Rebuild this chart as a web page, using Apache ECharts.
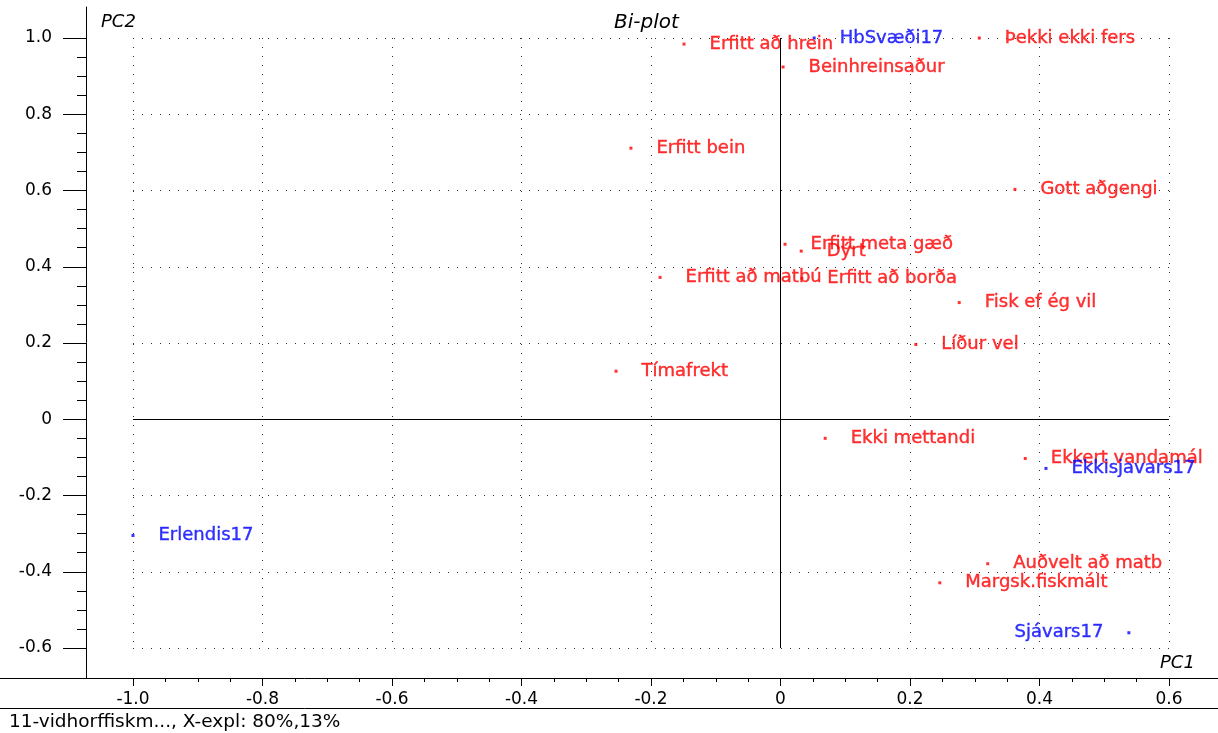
<!DOCTYPE html>
<html>
<head>
<meta charset="utf-8">
<script src="https://cdn.jsdelivr.net/npm/echarts@6/dist/echarts.min.js"></script>
<style>html,body{margin:0;padding:0;background:#fff;}#c{width:1218px;height:733px;}</style>
</head>
<body>
<div id="c"></div>
<script>
// Loadings / attributes (red)
const redNames = ['Erfitt að hrein','Beinhreinsaður','Þekki ekki fers','Erfitt bein','Gott aðgengi','Erfitt meta gæð','Dýrt','Erfitt að matbú','Erfitt að borða','Fisk ef ég vil','Líður vel','Tímafrekt','Ekki mettandi','Ekkert vandamál','Auðvelt að matb','Margsk.fiskmált'];
const redX = [-0.149, 0.004, 0.307, -0.231, 0.362, 0.007, 0.032, -0.186, 0.033, 0.276, 0.209, -0.254, 0.069, 0.378, 0.320, 0.246];
const redY = [0.984, 0.924, 1.000, 0.711, 0.603, 0.459, 0.441, 0.372, 0.370, 0.306, 0.196, 0.126, -0.050, -0.103, -0.379, -0.429];
// Scores / samples (blue)
const blueNames = ['HbSvæði17','Ekkisjavars17','Erlendis17','Sjávars17'];
const blueX = [0.052, 0.410, -1.000, 0.538];
const blueY = [1.000, -0.129, -0.305, -0.560];
const blueLabelSide = ['right','right','right','left'];
// Tick labels
const xTickLabels = ['-1.0','-0.8','-0.6','-0.4','-0.2','0','0.2','0.4','0.6'];
const yTickLabels = ['-0.6','-0.4','-0.2','0','0.2','0.4','0.6','0.8','1.0'];
const xMin = -1, xMax = 0.6, yMin = -0.6, yMax = 1.0, step = 0.2;

const FONT = 'DejaVu Sans';
const chart = echarts.init(document.getElementById('c'), null, {renderer:'canvas'});

const redData = redNames.map((n,i)=>({name:n, value:[redX[i], redY[i]]}));
const blueData = blueNames.map((n,i)=>({name:n, value:[blueX[i], blueY[i]], label:{position:blueLabelSide[i]}}));

const hiddenAxis = (g)=>({gridIndex:g, type:'value', min:0, max:1, show:false});
const lineAxis = (g, extra)=>Object.assign({gridIndex:g, type:'value', min:0, max:1,
  axisLine:{show:true, onZero:false, lineStyle:{color:'#000', width:1}},
  axisTick:{show:false}, axisLabel:{show:false}, splitLine:{show:false}}, extra||{});

const ital = (size)=>({fontFamily:FONT, fontSize:size, fontStyle:'italic', fontWeight:'normal', color:'#000'});
const ptLabel = (color)=>({show:true, position:'right', distance:24, formatter:'{b}', color:color,
  fontFamily:FONT, fontSize:18, textBorderColor:color, textBorderWidth:0.4});

chart.setOption({
  animation:false,
  backgroundColor:'#fff',
  title:[
    {text:'Bi-plot', left:614, top:13, padding:0, textStyle:ital(20)},
    {text:'PC2', left:101, top:13, padding:0, textStyle:ital(18)},
    {text:'PC1', left:1160, top:654, padding:0, textStyle:ital(18)},
    {text:'11-vidhorffiskm..., X-expl: 80%,13%', left:9, top:713, padding:0,
     textStyle:{fontFamily:FONT, fontSize:18.5, fontWeight:'normal', color:'#000'}}
  ],
  grid:[
    {left:133, right:49, top:38, bottom:85},
    {left:0, right:0, top:7, bottom:55},
    {left:86, right:0, top:7, bottom:55},
    {left:0, right:0, top:7, bottom:25}
  ],
  xAxis:[
    {gridIndex:0, type:'value', min:xMin, max:xMax, interval:step, offset:30,
     axisLine:{show:false, onZero:false},
     axisTick:{show:true, length:8, lineStyle:{color:'#000'}},
     minorTick:{show:true, splitNumber:4, length:4, lineStyle:{color:'#000'}},
     axisLabel:{margin:13, color:'#000', fontFamily:FONT, fontSize:17,
       formatter:(v)=>xTickLabels[Math.round((v-xMin)/step)]},
     splitLine:{show:true, lineStyle:{color:'#333', type:[1,8], width:1}}},
    lineAxis(1),
    hiddenAxis(2),
    lineAxis(3)
  ],
  yAxis:[
    {gridIndex:0, type:'value', min:yMin, max:yMax, interval:step, offset:47,
     axisLine:{show:false, onZero:false},
     axisTick:{show:true, length:23, lineStyle:{color:'#000'}},
     minorTick:{show:true, splitNumber:4, length:9, lineStyle:{color:'#000'}},
     axisLabel:{margin:34, color:'#000', fontFamily:FONT, fontSize:17,
       formatter:(v)=>yTickLabels[Math.round((v-yMin)/step)]},
     splitLine:{show:true, lineStyle:{color:'#333', type:[1,8], width:1}}},
    hiddenAxis(1),
    lineAxis(2),
    hiddenAxis(3)
  ],
  series:[
    {type:'scatter', xAxisIndex:0, yAxisIndex:0, data:redData, symbol:'rect', symbolSize:3,
     itemStyle:{color:'#ff0000'},
     label:ptLabel('#ff0000'),
     markLine:{silent:true, symbol:'none', label:{show:false}, emphasis:{disabled:true},
       lineStyle:{color:'#000', type:'solid', width:1},
       data:[{xAxis:0},{yAxis:0}]}},
    {type:'scatter', xAxisIndex:0, yAxisIndex:0, data:blueData, symbol:'rect', symbolSize:3,
     itemStyle:{color:'#0000ff'},
     label:ptLabel('#0000ff')}
  ]
});
</script>
</body>
</html>
